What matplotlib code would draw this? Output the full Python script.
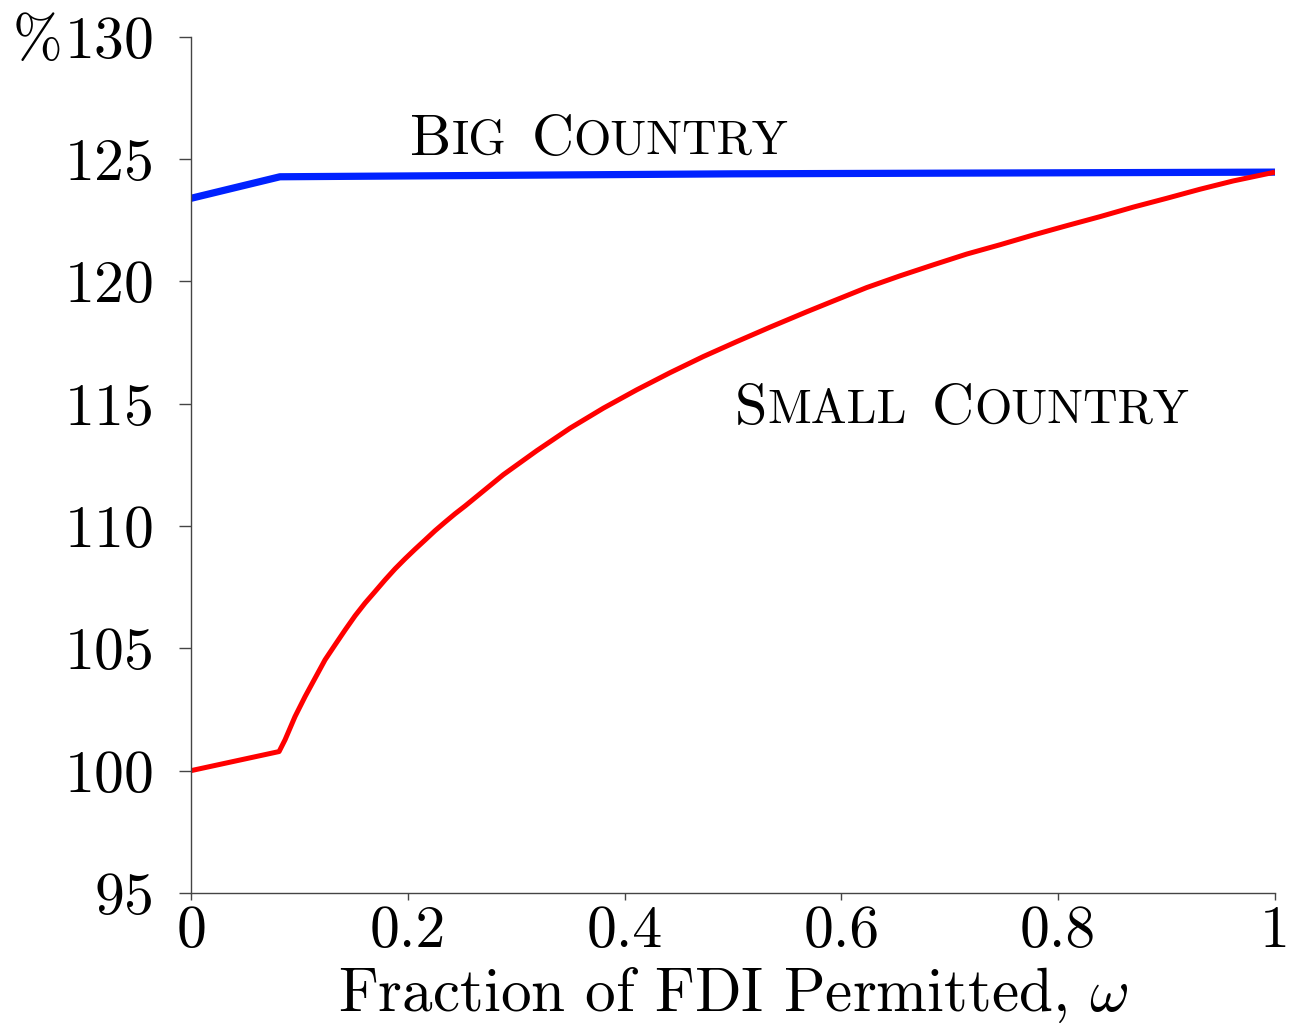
import numpy as np
import matplotlib
matplotlib.use("Agg")
import matplotlib.pyplot as plt

plt.rcParams['font.family'] = 'serif'
plt.rcParams['font.serif'] = ['cmr10']
plt.rcParams['mathtext.fontset'] = 'cm'
plt.rcParams['axes.formatter.use_mathtext'] = True

# values
omega_big = [0.0, 0.082, 0.5, 1.0]
big_country = [123.4, 124.28, 124.4, 124.47]

omega_small = [0.0, 0.0812, 0.0867, 0.0959, 0.1052, 0.1144, 0.1236, 0.1328,
               0.1421, 0.1513, 0.1605, 0.1697, 0.1790, 0.1882, 0.1974, 0.2066,
               0.2159, 0.2251, 0.2343, 0.2435, 0.2528, 0.2881, 0.3189, 0.3496,
               0.3804, 0.4112, 0.4419, 0.4726, 0.5034, 0.5341, 0.5680, 0.5925,
               0.6233, 0.6541, 0.6848, 0.7156, 0.7463, 0.7770, 0.8078, 0.8386,
               0.8693, 0.9001, 0.9308, 0.9615, 1.0]
small_country = [100.0, 100.78, 101.26, 102.21, 103.03, 103.78, 104.53, 105.14,
                 105.75, 106.33, 106.85, 107.32, 107.80, 108.25, 108.66, 109.05,
                 109.43, 109.81, 110.16, 110.50, 110.82, 112.10, 113.08, 114.00,
                 114.82, 115.57, 116.27, 116.93, 117.54, 118.13, 118.76, 119.20,
                 119.75, 120.23, 120.68, 121.12, 121.50, 121.90, 122.28, 122.65,
                 123.04, 123.40, 123.77, 124.11, 124.47]

xticks = [0, 0.2, 0.4, 0.6, 0.8, 1]
xtick_labels = ['0', '0.2', '0.4', '0.6', '0.8', '1']
yticks = [95, 100, 105, 110, 115, 120, 125, 130]


def small_caps(ax, x, y, pieces, big=42, small=34.5, gap=18):
    """Fake small caps: chain big/small pieces along a shared baseline."""
    prev = None
    prev_size = None
    gap_next = 0
    for s, is_big in pieces:
        if s == ' ':
            gap_next = gap
            continue
        size = big if is_big else small
        if prev is None:
            prev = ax.text(x, y, s, fontsize=size, va='baseline', ha='left')
        else:
            dy = 0.194 * (prev_size - size)
            prev = ax.annotate(s, xy=(1, 0), xycoords=prev,
                               xytext=(gap_next, dy), textcoords='offset points',
                               fontsize=size, va='bottom', ha='left')
        gap_next = 0
        prev_size = size


fig = plt.figure(figsize=(12.91, 10.24), dpi=100)
ax = fig.add_axes([0.148, 0.128, 0.8396, 0.836])

ax.plot(omega_big, big_country, color='#0022ff', lw=5.2, solid_capstyle='butt')
ax.plot(omega_small, small_country, color='#ff0000', lw=3.6,
        solid_capstyle='butt', solid_joinstyle='round')

ax.set_xlim(0, 1)
ax.set_ylim(95, 130)
ax.set_xticks(xticks)
ax.set_xticklabels(xtick_labels)
ax.set_yticks(yticks)

for side in ['top', 'right']:
    ax.spines[side].set_visible(False)
for side in ['left', 'bottom']:
    ax.spines[side].set_color('#444444')
    ax.spines[side].set_linewidth(1.0)

ax.tick_params(axis='y', direction='out', length=8.5, width=1.0, color='#444444',
               labelsize=43, pad=19)
ax.tick_params(axis='x', direction='out', length=5, width=1.0, color='#444444',
               labelsize=43, pad=4)

ax.set_xlabel(r'Fraction of FDI Permitted, $\omega$', fontsize=44, labelpad=5)
ax.annotate('%', xy=(0.048, 130), xycoords=('figure fraction', 'data'),
            fontsize=43, ha='right', va='center_baseline')

small_caps(ax, 0.202, 125.18, [('B', True), ('IG', False), (' ', False),
                               ('C', True), ('OUNTRY', False)])
small_caps(ax, 0.502, 114.18, [('S', True), ('MALL', False), (' ', False),
                               ('C', True), ('OUNTRY', False)])

fig.savefig('out.png', dpi=100)
